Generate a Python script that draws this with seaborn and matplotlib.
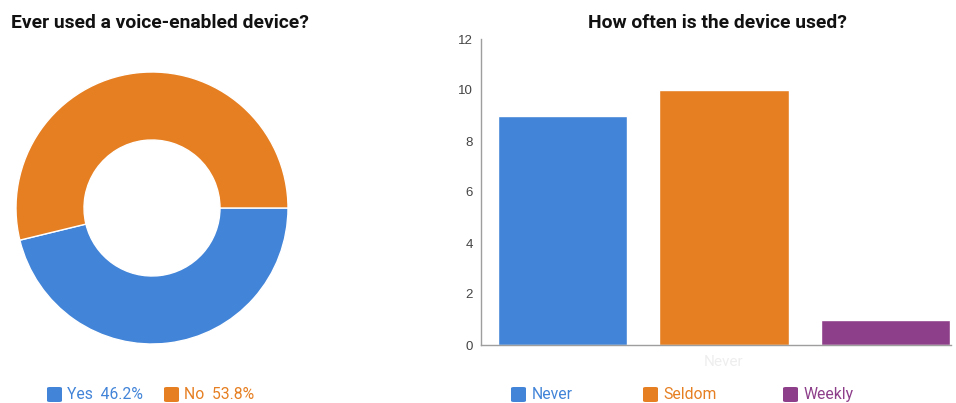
import matplotlib
matplotlib.use("Agg")
import matplotlib.pyplot as plt
from matplotlib.patches import FancyBboxPatch
import seaborn as sns
import pandas as pd

# ---- data ----
pie_labels = ["Yes", "No"]
pie_values = [46.2, 53.8]
pie_colors = ["#4284D8", "#E67F22"]

bar_categories = ["Never", "Seldom", "Weekly"]
bar_values = [9, 10, 1]
bar_colors = ["#4284D8", "#E67F22", "#8E3F8A"]
y_ticks = [0, 2, 4, 6, 8, 10, 12]

sns.set_theme(style="white")
plt.rcParams["font.family"] = ["Roboto", "DejaVu Sans"]

W, H = 956, 403
fig = plt.figure(figsize=(W / 100, H / 100), dpi=100)

def fx(px):
    return px / W

def fy(py):
    return (H - py) / H

# ---- donut ----
ax1 = fig.add_axes([fx(16), fy(344), fx(272), 272 / H])
ax1.pie(pie_values, colors=pie_colors, startangle=0, counterclock=False,
        radius=1, wedgeprops=dict(width=0.5, edgecolor="white", linewidth=1))
ax1.set_xlim(-1, 1)
ax1.set_ylim(-1, 1)
ax1.set_aspect("equal")
ax1.axis("off")

fig.text(fx(11), fy(28), "Ever used a voice-enabled device?", fontsize=13.9,
         fontweight="bold", color="#111111", ha="left", va="baseline")

# ---- bars ----
ax2 = fig.add_axes([fx(481), fy(345), fx(470), 306 / H])
df = pd.DataFrame({"cat": bar_categories, "val": bar_values})
sns.barplot(data=df, x="cat", y="val", hue="cat", order=bar_categories,
            hue_order=bar_categories, palette=bar_colors, width=0.8,
            saturation=1, legend=False, ax=ax2)
ax2.set_ylim(0, 12)
ax2.set_xlim(-0.503, 2.404)
ax2.set_yticks(y_ticks)
ax2.set_yticklabels([str(t) for t in y_ticks], fontfamily="Liberation Sans",
                    fontsize=9.5, color="#444444")
ax2.set_xticks([1])
ax2.set_xticklabels(["Never"], fontsize=11, color="#EEEEEE")
ax2.tick_params(axis="both", length=0)
ax2.tick_params(axis="y", pad=6)
ax2.tick_params(axis="x", pad=7)
ax2.set_xlabel("")
ax2.set_ylabel("")
for s in ["top", "right"]:
    ax2.spines[s].set_visible(False)
for s in ["left", "bottom"]:
    ax2.spines[s].set_color("#9E9E9E")
    ax2.spines[s].set_linewidth(1)

fig.text(fx(717), fy(28), "How often is the device used?", fontsize=13.9,
         fontweight="bold", color="#111111", ha="center", va="baseline")

# ---- legends ----
def legend_item(sq_x, text_x, label, color, yc=394.5, size=15):
    box = FancyBboxPatch((fx(sq_x), fy(yc + size / 2)), fx(size), size / H,
                         boxstyle="round,pad=0,rounding_size=0.003",
                         transform=fig.transFigure, facecolor=color,
                         edgecolor="none")
    fig.patches.append(box)
    fig.text(fx(text_x), fy(yc), label, fontsize=11.3, color=color,
             ha="left", va="center")

left_sq = [47, 164]
left_tx = [67, 184]
for lab, val, col, sx, tx in zip(pie_labels, pie_values, pie_colors, left_sq, left_tx):
    legend_item(sx, tx, f"{lab}  {val:.1f}%", col)

right_sq = [511, 643, 783]
right_tx = [532, 663, 804]
for lab, col, sx, tx in zip(bar_categories, bar_colors, right_sq, right_tx):
    legend_item(sx, tx, lab, col)

fig.savefig("out.png", dpi=100)
